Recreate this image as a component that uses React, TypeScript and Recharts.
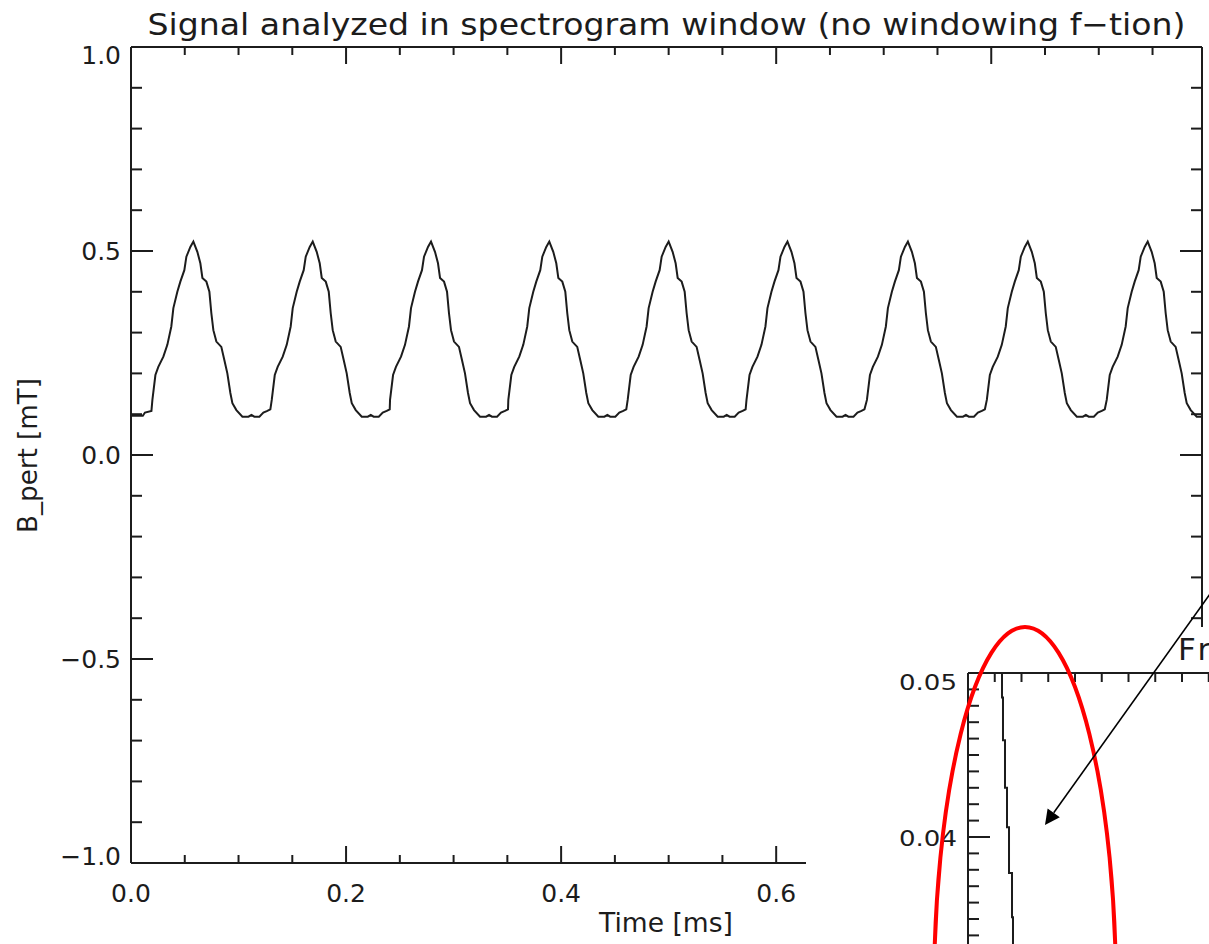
import React from "react";
import { LineChart, Line, XAxis, YAxis, ReferenceLine } from "recharts";

// ---------- text ----------
const titleText = "Signal analyzed in spectrogram window (no windowing f\u2212tion)";
const xAxisTitle = "Time [ms]";
const yAxisTitle = "B_pert [mT]";
const insetTitle = "Frequency";

// ---------- main chart axes ----------
const xDomain = [0, 0.996];
const xTicks = [0, 0.05, 0.1, 0.15, 0.2, 0.25, 0.3, 0.35, 0.4, 0.45, 0.5, 0.55, 0.6, 0.65, 0.7, 0.75, 0.8, 0.85, 0.9, 0.95];
const xMajorTicks = [0, 0.2, 0.4, 0.6, 0.8];
const xTickLabels = ["0.0", "0.2", "0.4", "0.6", "0.8"];

const yDomain = [-1, 1];
const yTicks = [-1, -0.9, -0.8, -0.7, -0.6, -0.5, -0.4, -0.3, -0.2, -0.1, 0, 0.1, 0.2, 0.3, 0.4, 0.5, 0.6, 0.7, 0.8, 0.9, 1];
const yMajorTicks = [-1, -0.5, 0, 0.5, 1];
const yTickLabels = ["\u22121.0", "\u22120.5", "0.0", "0.5", "1.0"];

// ---------- main signal ----------
// times of the nine peaks [ms]
const peakTimes = [0.058, 0.169, 0.279, 0.389, 0.5, 0.6105, 0.7225, 0.834, 0.9455];
// one period of the waveform, time relative to its peak [ms]
const shapeOffsets = [
  -0.0381, -0.0353, -0.0326, -0.0279, -0.0242, -0.0205, -0.0186, -0.0149, -0.0121, -0.0084, -0.0065, -0.0028,
  0, 0.0037, 0.0065, 0.0084, 0.0121, 0.0149, 0.0167, 0.0186, 0.0214, 0.026, 0.0288, 0.0316, 0.0344, 0.0363,
  0.04, 0.0456, 0.0512, 0.054, 0.0567, 0.0614, 0.0651, 0.0688, 0.0716,
];
// B_pert values of that period [mT]
const shapeValues = [
  0.135, 0.196, 0.216, 0.241, 0.27, 0.315, 0.36, 0.4, 0.425, 0.453, 0.486, 0.51,
  0.523, 0.498, 0.47, 0.434, 0.425, 0.4, 0.348, 0.306, 0.278, 0.265, 0.233, 0.2, 0.152, 0.127,
  0.11, 0.094, 0.094, 0.098, 0.094, 0.094, 0.104, 0.108, 0.112,
];
// start of the trace before the first period, and its end
const leadTimes = [0, 0.011, 0.013, 0.019];
const leadValues = [0.096, 0.096, 0.104, 0.108];
const tailTimes = [0.996];
const tailValues = [0.094];

// ---------- inset (frequency plot, only its top-left corner is visible) ----------
const insetXDomain = [0, 20];
const insetXTicks = [0, 1, 2, 3, 4, 5, 6, 7, 8, 9, 10, 11, 12, 13, 14, 15, 16, 17, 18, 19, 20];
const insetYDomain = [0.02, 0.05];
const insetYTicks = [
  0.02, 0.021, 0.022, 0.023, 0.024, 0.025, 0.026, 0.027, 0.028, 0.029,
  0.03, 0.031, 0.032, 0.033, 0.034, 0.035, 0.036, 0.037, 0.038, 0.039,
  0.04, 0.041, 0.042, 0.043, 0.044, 0.045, 0.046, 0.047, 0.048, 0.049, 0.05,
];
const insetYMajorTicks = [0.02, 0.03, 0.04, 0.05];
const insetYTickLabels = ["0.02", "0.03", "0.04", "0.05"];
const insetLineX = [1.271, 1.271, 1.308, 1.308, 1.383, 1.383, 1.458, 1.458, 1.533, 1.533, 1.645, 1.645, 1.682, 1.682];
const insetLineY = [0.05, 0.0485, 0.0485, 0.0459, 0.0459, 0.043, 0.043, 0.0406, 0.0406, 0.0378, 0.0378, 0.0351, 0.0351, 0.032];

// ---------- build tables ----------
const signalData: { t: number; v: number }[] = [];
leadTimes.forEach((t, i) => signalData.push({ t, v: leadValues[i] }));
peakTimes.forEach((p) => {
  shapeOffsets.forEach((o, i) => {
    const t = p + o;
    if (t < xDomain[1]) signalData.push({ t, v: shapeValues[i] });
  });
});
tailTimes.forEach((t, i) => signalData.push({ t, v: tailValues[i] }));

const insetData = insetLineX.map((x, i) => ({ f: x, a: insetLineY[i] }));

// ---------- style ----------
const INK = "#1c1c1c";
const FONT = "'DejaVu Sans', sans-serif";
const near = (a: number, b: number) => Math.abs(a - b) < 1e-6;

// main chart ticks (drawn inward, IDL style)
const MainBottomTick = (p: any) => {
  const { x, y, payload } = p;
  const mi = xMajorTicks.findIndex((m) => near(m, payload.value));
  const len = mi >= 0 ? 17 : 8;
  return (
    <g>
      <line x1={x} x2={x} y1={y} y2={y - len} stroke={INK} strokeWidth={2} />
      {mi >= 0 && (
        <text x={x} y={y + 39} textAnchor="middle" fontSize={25} fontFamily={FONT} fill={INK}>
          {xTickLabels[mi]}
        </text>
      )}
    </g>
  );
};
const MainTopTick = (p: any) => {
  const { x, y, payload } = p;
  const mi = xMajorTicks.findIndex((m) => near(m, payload.value));
  const len = mi >= 0 ? 17 : 8;
  return <line x1={x} x2={x} y1={y} y2={y + len} stroke={INK} strokeWidth={2} />;
};
const yLabelDy = [2, 9, 9, 9, 17];
const MainLeftTick = (p: any) => {
  const { x, y, payload } = p;
  const mi = yMajorTicks.findIndex((m) => near(m, payload.value));
  const len = mi >= 0 ? 22 : 11;
  return (
    <g>
      <line x1={x} x2={x + len} y1={y} y2={y} stroke={INK} strokeWidth={2} />
      {mi >= 0 && (
        <text x={x - 10} y={y + yLabelDy[mi]} textAnchor="end" fontSize={25} fontFamily={FONT} fill={INK}>
          {yTickLabels[mi]}
        </text>
      )}
    </g>
  );
};
const MainRightTick = (p: any) => {
  const { x, y, payload } = p;
  const mi = yMajorTicks.findIndex((m) => near(m, payload.value));
  const len = mi >= 0 ? 22 : 11;
  return <line x1={x} x2={x - len} y1={y} y2={y} stroke={INK} strokeWidth={2} />;
};

// inset ticks
const InsetTopTick = (p: any) => {
  const { x, y } = p;
  return <line x1={x} x2={x} y1={y} y2={y + 9} stroke={INK} strokeWidth={2} />;
};
const InsetLeftTick = (p: any) => {
  const { x, y, payload } = p;
  const mi = insetYMajorTicks.findIndex((m) => near(m, payload.value));
  const len = mi >= 0 ? 22 : 11;
  const dy = near(payload.value, insetYDomain[1]) ? 17 : 9;
  return (
    <g>
      <line x1={x} x2={x + len} y1={y} y2={y} stroke={INK} strokeWidth={2} />
      {mi >= 0 && (
        <text
          x={x - 11}
          y={y + dy}
          textAnchor="end"
          fontSize={22}
          fontFamily={FONT}
          fill={INK}
          textLength={58}
          lengthAdjust="spacingAndGlyphs"
        >
          {insetYTickLabels[mi]}
        </text>
      )}
    </g>
  );
};

// annotation arrow geometry (container coordinates)
const arrowStart = [1207, 579];
const arrowTip = [1037, 817];
const headLen = 15;
const headHalf = 7.5;
function arrowHead() {
  const dx = arrowTip[0] - arrowStart[0];
  const dy = arrowTip[1] - arrowStart[1];
  const L = Math.hypot(dx, dy);
  const ux = dx / L;
  const uy = dy / L;
  const bx = arrowTip[0] - headLen * ux;
  const by = arrowTip[1] - headLen * uy;
  const nx = -uy * headHalf;
  const ny = ux * headHalf;
  return {
    base: [bx, by],
    pts: `${arrowTip[0]},${arrowTip[1]} ${bx + nx},${by + ny} ${bx - nx},${by - ny}`,
  };
}

const axisLineStyle = { stroke: INK, strokeWidth: 2 };

export default function App() {
  const head = arrowHead();
  return (
    <div
      style={{
        position: "fixed",
        left: 8,
        top: 8,
        width: 1201,
        height: 936,
        overflow: "hidden",
        background: "#fff",
      }}
    >
      <div style={{ position: "absolute", left: 0, top: 0 }}>
        <LineChart width={1201} height={936} data={signalData} margin={{ top: 38, right: 6, bottom: 80, left: 122 }}>
          <XAxis
            xAxisId="b"
            dataKey="t"
            type="number"
            domain={xDomain}
            ticks={xTicks}
            interval={0}
            allowDataOverflow
            orientation="bottom"
            height={1}
            tickSize={0}
            tickMargin={0}
            tickLine={false}
            axisLine={axisLineStyle}
            tick={MainBottomTick}
          />
          <XAxis
            xAxisId="t"
            dataKey="t"
            type="number"
            domain={xDomain}
            ticks={xTicks}
            interval={0}
            allowDataOverflow
            orientation="top"
            height={1}
            tickSize={0}
            tickMargin={0}
            tickLine={false}
            axisLine={axisLineStyle}
            tick={MainTopTick}
          />
          <YAxis
            yAxisId="l"
            type="number"
            domain={yDomain}
            ticks={yTicks}
            interval={0}
            allowDataOverflow
            orientation="left"
            width={1}
            tickSize={0}
            tickMargin={0}
            tickLine={false}
            axisLine={axisLineStyle}
            tick={MainLeftTick}
          />
          <YAxis
            yAxisId="r"
            type="number"
            domain={yDomain}
            ticks={yTicks}
            interval={0}
            allowDataOverflow
            orientation="right"
            width={1}
            tickSize={0}
            tickMargin={0}
            tickLine={false}
            axisLine={axisLineStyle}
            tick={MainRightTick}
          />
          <ReferenceLine
            xAxisId="b"
            yAxisId="l"
            x={xDomain[1]}
            stroke={INK}
            strokeWidth={2}
            ifOverflow="visible"
          />
          <Line
            xAxisId="b"
            yAxisId="l"
            dataKey="v"
            type="linear"
            stroke={INK}
            strokeWidth={2}
            dot={false}
            isAnimationActive={false}
          />
        </LineChart>
      </div>

      {/* inset panel */}
      <div
        style={{
          position: "absolute",
          left: 798,
          top: 619,
          width: 403,
          height: 317,
          overflow: "hidden",
          background: "#fff",
        }}
      >
        <LineChart width={700} height={600} data={insetData} margin={{ top: 45, right: 3, bottom: 62, left: 161 }}>
          <XAxis
            dataKey="f"
            type="number"
            domain={insetXDomain}
            ticks={insetXTicks}
            interval={0}
            allowDataOverflow
            orientation="top"
            height={1}
            tickSize={0}
            tickMargin={0}
            tickLine={false}
            axisLine={axisLineStyle}
            tick={InsetTopTick}
          />
          <YAxis
            type="number"
            domain={insetYDomain}
            ticks={insetYTicks}
            interval={0}
            allowDataOverflow
            orientation="left"
            width={1}
            tickSize={0}
            tickMargin={0}
            tickLine={false}
            axisLine={axisLineStyle}
            tick={InsetLeftTick}
          />
          <Line dataKey="a" type="linear" stroke={INK} strokeWidth={2} dot={false} isAnimationActive={false} />
        </LineChart>
      </div>

      {/* titles and annotations */}
      <svg
        width={1201}
        height={936}
        style={{ position: "absolute", left: 0, top: 0, pointerEvents: "none" }}
      >
        <text
          x={658.5}
          y={27}
          textAnchor="middle"
          fontSize={31}
          fontFamily={FONT}
          fill={INK}
          textLength={1038}
          lengthAdjust="spacingAndGlyphs"
        >
          {titleText}
        </text>
        <text
          x={658}
          y={924}
          textAnchor="middle"
          fontSize={27}
          fontFamily={FONT}
          fill={INK}
          textLength={134}
          lengthAdjust="spacingAndGlyphs"
        >
          {xAxisTitle}
        </text>
        <text
          transform="translate(29,447.5) rotate(-90)"
          x={0}
          y={0}
          textAnchor="middle"
          fontSize={27}
          fontFamily={FONT}
          fill={INK}
          textLength={155}
          lengthAdjust="spacingAndGlyphs"
        >
          {yAxisTitle}
        </text>
        <text x={1170} y={652} fontSize={31} letterSpacing={4} fontFamily={FONT} fill={INK}>
          {insetTitle}
        </text>
        <ellipse cx={1017} cy={984} rx={91} ry={365} fill="none" stroke="#ff0000" strokeWidth={4} />
        <line
          x1={arrowStart[0]}
          y1={arrowStart[1]}
          x2={head.base[0]}
          y2={head.base[1]}
          stroke="#000"
          strokeWidth={1.6}
        />
        <polygon points={head.pts} fill="#000" />
      </svg>
    </div>
  );
}
